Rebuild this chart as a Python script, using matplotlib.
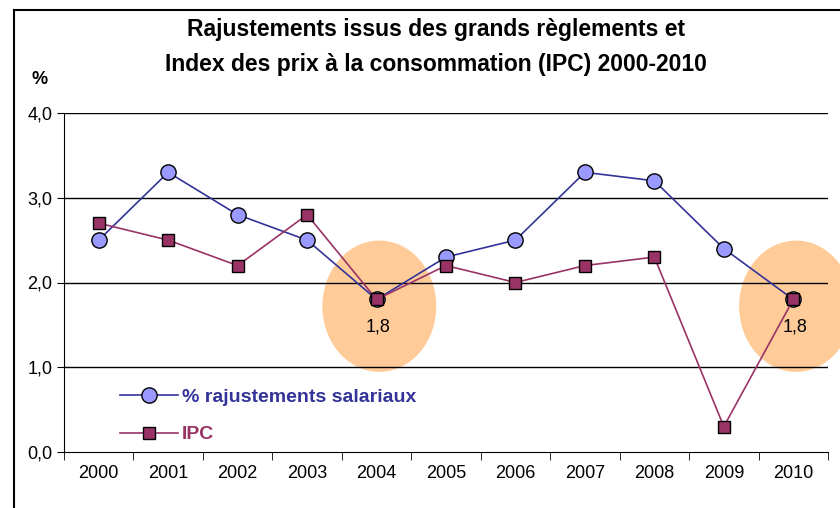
import matplotlib.pyplot as plt
from matplotlib.patches import Ellipse, Rectangle
from matplotlib.lines import Line2D
from matplotlib.ticker import FuncFormatter

plt.rcParams['font.family'] = ['Liberation Sans', 'DejaVu Sans']

# data
years = ['2000', '2001', '2002', '2003', '2004', '2005', '2006', '2007', '2008', '2009', '2010']
rajustements = [2.5, 3.3, 2.8, 2.5, 1.8, 2.3, 2.5, 3.3, 3.2, 2.4, 1.8]
ipc = [2.7, 2.5, 2.2, 2.8, 1.8, 2.2, 2.0, 2.2, 2.3, 0.3, 1.8]
highlight_idx = [4, 10]

blue = '#333399'
blue_fill = '#9999FF'
maroon = '#993366'
peach = '#FFCC99'

fig = plt.figure(figsize=(8.4, 5.08), dpi=100)
fig.patches.append(Rectangle((14/840, -0.1), 1.2, 1 - 10/508 + 0.1, transform=fig.transFigure,
                             fill=False, edgecolor='black', linewidth=1.5))
ax = fig.add_axes([64/840, 1 - 452/508, 764/840, 339/508])

x = list(range(len(years)))

# highlight circles
for i in highlight_idx:
    ax.add_patch(Ellipse((i + 0.04, 1.72), 1.64, 1.55, facecolor=peach, edgecolor='none',
                         zorder=1, clip_on=False))
    ax.text(i + 0.02, 1.47, '1,8', ha='center', va='center', fontsize=13, zorder=5)

for yv in [1, 2, 3, 4]:
    ax.axhline(yv, color='black', linewidth=1, zorder=2)

ax.plot(x, rajustements, color=blue, linewidth=1.2, marker='o', markersize=11,
        markerfacecolor=blue_fill, markeredgecolor='black', markeredgewidth=1, zorder=3)
ax.plot(x, ipc, color=maroon, linewidth=1.2, marker='s', markersize=8,
        markerfacecolor=maroon, markeredgecolor='black', markeredgewidth=1, zorder=4)

ax.set_xlim(-0.5, len(years) - 0.5)
ax.set_ylim(0, 4)
ax.set_xticks(x)
ax.set_xticklabels(years, fontsize=13)
ax.set_xticks([i - 0.5 for i in range(len(years) + 1)], minor=True)
ax.tick_params(axis='x', which='major', length=0, pad=9)
ax.tick_params(axis='x', which='minor', length=6, direction='out')
ax.set_yticks([0, 1, 2, 3, 4])
ax.yaxis.set_major_formatter(FuncFormatter(lambda v, p: f'{v:.1f}'.replace('.', ',')))
ax.tick_params(axis='y', labelsize=13, length=5, direction='out')
for s in ['top', 'right']:
    ax.spines[s].set_visible(False)

# legend
handles = [Line2D([], [], color=blue, marker='o', markersize=11, markerfacecolor=blue_fill,
                  markeredgecolor='black', linewidth=1.2),
           Line2D([], [], color=maroon, marker='s', markersize=8, markerfacecolor=maroon,
                  markeredgecolor='black', linewidth=1.2)]
leg = ax.legend(handles, ['% rajustements salariaux', 'IPC'], loc='lower left',
                bbox_to_anchor=(0.05, -0.026), frameon=False, handlelength=3.0,
                handletextpad=0.2, labelspacing=1.0, prop={'weight': 'bold', 'size': 14})
leg.get_texts()[0].set_color(blue)
leg.get_texts()[1].set_color(maroon)

fig.text(436/840, 1 - 47/508, 'Rajustements issus des grands règlements et\nIndex des prix à la consommation (IPC) 2000-2010',
         ha='center', va='center', fontsize=16.5, fontweight='bold', linespacing=1.65)
fig.text(40/840, 1 - 80/508, '%', ha='center', va='center', fontsize=13, fontweight='bold')

fig.savefig('out.png', dpi=100)
